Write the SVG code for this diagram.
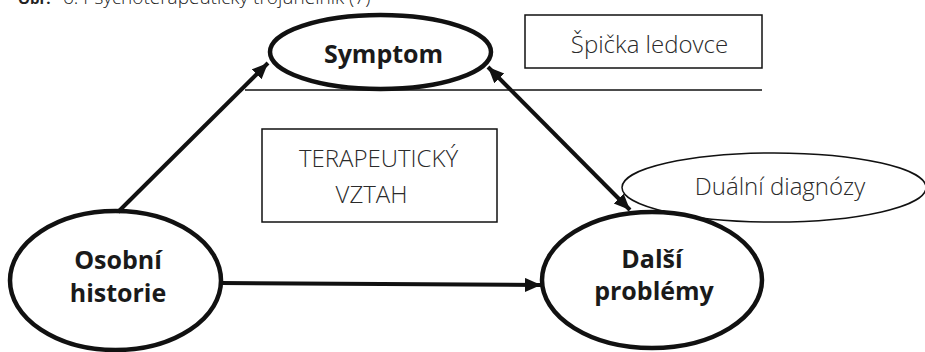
<svg xmlns="http://www.w3.org/2000/svg" width="925" height="352" viewBox="0 0 925 352">
<style>
.bg{fill:#fff}
.node{fill:#fff;stroke:#111;stroke-width:4.5}
.thin{fill:#fff;stroke:#111;stroke-width:1.5}
.conn{stroke:#111;stroke-width:4;fill:none}
.line{stroke:#111;stroke-width:1.5;fill:none}
.bold{font-family:"Open Sans","Liberation Sans",sans-serif;font-weight:700;font-size:25px;fill:#1a1a1a;text-anchor:middle}
.light{font-family:"Open Sans","Liberation Sans",sans-serif;font-weight:300;font-size:24px;fill:#2a2a2a;text-anchor:middle}
.title{font-family:"Open Sans","Liberation Sans",sans-serif;fill:#222}
</style>
<defs>
<marker id="ah" markerUnits="userSpaceOnUse" markerWidth="18" markerHeight="16" refX="16" refY="7" orient="auto-start-reverse">
<path d="M0,0 L16,7 L0,14 z" fill="#111"/>
</marker>
</defs>
<rect class="bg" x="0" y="0" width="925" height="352"/>
<text class="title" x="18" y="4" font-size="15" font-weight="700">Obr.</text>
<text class="title" x="63" y="4" font-size="19" font-weight="300">6: Psychoterapeutický trojúhelník (7)</text>

<g id="spicka">
<rect class="thin" x="525" y="15" width="237" height="53"/>
<text class="light" x="649.5" y="53" font-size="24.5">Špička ledovce</text>
</g>
<line class="line" x1="245" y1="90" x2="762" y2="90"/>

<g id="terapeuticky-vztah">
<rect class="thin" x="262" y="129" width="235" height="93"/>
<text class="light" x="378.5" y="167" font-size="25.5">TERAPEUTICKÝ</text>
<text class="light" x="371.5" y="203" font-size="28">VZTAH</text>
</g>

<g id="dualni">
<ellipse class="thin" cx="774" cy="187.5" rx="152" ry="34.5"/>
<text class="light" x="780" y="195">Duální diagnózy</text>
</g>

<g id="symptom">
<ellipse class="node" cx="380.5" cy="52" rx="110.5" ry="37"/>
<text class="bold" x="383.5" y="63">Symptom</text>
</g>

<g id="osobni-historie">
<ellipse class="node" cx="115.5" cy="280.5" rx="105.5" ry="69.5"/>
<text class="bold" x="118" y="269">Osobní</text>
<text class="bold" x="118" y="302">historie</text>
</g>

<g id="dalsi-problemy">
<ellipse class="node" cx="652" cy="280" rx="110" ry="68"/>
<text class="bold" x="652" y="268">Další</text>
<text class="bold" x="654" y="300">problémy</text>
</g>

<g id="connectors">
<line class="conn" x1="118" y1="212" x2="268" y2="63" marker-end="url(#ah)"/>
<line class="conn" x1="488" y1="67" x2="630" y2="210" marker-start="url(#ah)" marker-end="url(#ah)"/>
<line class="conn" x1="221" y1="283" x2="541" y2="285" stroke-width="5" marker-end="url(#ah)"/>
</g>
</svg>
